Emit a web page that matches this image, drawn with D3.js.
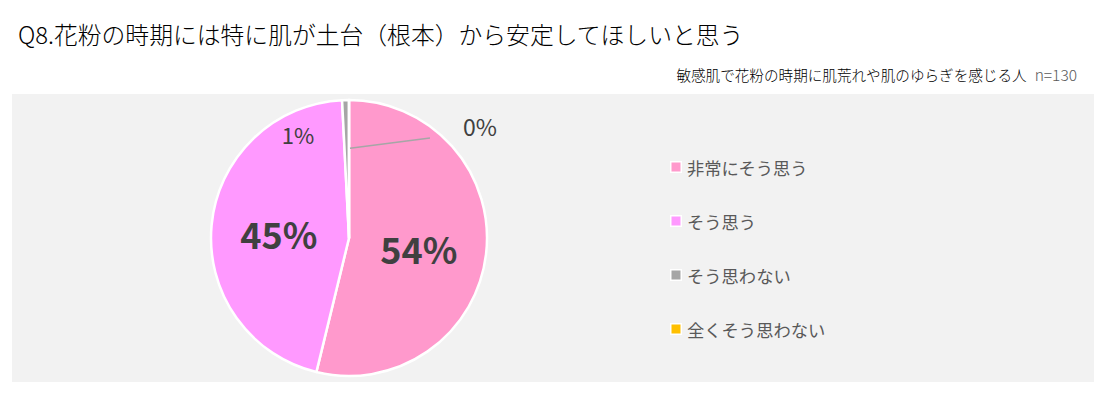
<!DOCTYPE html>
<html>
<head>
<meta charset="utf-8">
<script src="https://cdn.jsdelivr.net/npm/d3@7"></script>
<style>
  body { margin: 0; background: #fff; }
  text { font-family: "Noto Sans CJK JP", "Noto Sans", sans-serif; }
</style>
</head>
<body>
<svg id="chart" width="1111" height="396"></svg>
<script>
// data
var categories = ["非常にそう思う", "そう思う", "そう思わない", "全くそう思わない"];
var values = [53.8, 45.4, 0.8, 0];
var valueLabels = ["54%", "45%", "1%", "0%"];
var colors = ["#FF99CC", "#FF99FF", "#A6A6A6", "#FFC000"];

var svg = d3.select("#chart");

// title + subtitle
svg.append("text")
  .attr("x", 18).attr("y", 44)
  .attr("font-size", "23.8px")
  .attr("font-weight", 300)
  .attr("fill", "#000")
  .text("Q8.花粉の時期には特に肌が土台（根本）から安定してほしいと思う");

var sub = svg.append("text")
  .attr("x", 1077).attr("y", 81)
  .attr("text-anchor", "end")
  .attr("font-size", "14.6px")
  .attr("font-weight", 300)
  .attr("fill", "#000");
sub.append("tspan").text("敏感肌で花粉の時期に肌荒れや肌のゆらぎを感じる人");
sub.append("tspan").attr("dx", 8).attr("fill", "#595959").attr("font-size", "15.5px").text("n=130");

// panel
svg.append("rect")
  .attr("x", 12).attr("y", 94)
  .attr("width", 1082).attr("height", 288)
  .attr("fill", "#F2F2F2");

// pie
var cx = 349, cy = 238, r = 138;
var pie = d3.pie().sort(null).value(function(d) { return d; });
var arcs = pie(values);
var arc = d3.arc().innerRadius(0).outerRadius(r);

var g = svg.append("g").attr("transform", "translate(" + cx + "," + cy + ")");

g.selectAll("path")
  .data(arcs)
  .enter()
  .append("path")
  .attr("d", arc)
  .attr("fill", function(d, i) { return colors[i]; })
  .attr("stroke", "#fff")
  .attr("stroke-width", 2.5)
  .attr("stroke-linejoin", "round");

// big labels
var labelArc = d3.arc().innerRadius(r * 0.51).outerRadius(r * 0.51);

arcs.forEach(function(d, i) {
  if (i < 2) {
    var c = labelArc.centroid(d);
    g.append("text")
      .attr("x", c[0]).attr("y", c[1] + 2)
      .attr("text-anchor", "middle")
      .attr("dominant-baseline", "central")
      .attr("font-size", "36px")
      .attr("font-weight", "bold")
      .attr("fill", "#404040")
      .text(valueLabels[i]);
  }
});

// 1% label
g.append("text")
  .attr("x", -51).attr("y", -104)
  .attr("text-anchor", "middle")
  .attr("dominant-baseline", "central")
  .attr("font-size", "22px")
  .attr("fill", "#404040")
  .text(valueLabels[2]);

// 0% label with leader line
var a0 = arcs[3].startAngle;
var lx = Math.sin(a0) * (r * 0.65), ly = -Math.cos(a0) * (r * 0.65);
g.append("line")
  .attr("x1", lx + 1).attr("y1", ly)
  .attr("x2", 81).attr("y2", -100)
  .attr("stroke", "#A6A6A6")
  .attr("stroke-width", 1.5);
g.append("text")
  .attr("x", 131).attr("y", -112)
  .attr("text-anchor", "middle")
  .attr("dominant-baseline", "central")
  .attr("font-size", "23px")
  .attr("fill", "#404040")
  .text(valueLabels[3]);

// legend
var legend = svg.append("g").selectAll("g")
  .data(categories)
  .enter()
  .append("g")
  .attr("transform", function(d, i) { return "translate(670," + (167 + i * 54) + ")"; });

legend.append("rect")
  .attr("x", 0).attr("y", -6)
  .attr("width", 12).attr("height", 12)
  .attr("fill", "#fff");
legend.append("rect")
  .attr("x", 1.5).attr("y", -4.5)
  .attr("width", 9).attr("height", 9)
  .attr("fill", function(d, i) { return colors[i]; });
legend.append("text")
  .attr("x", 17).attr("y", 0)
  .attr("dominant-baseline", "central")
  .attr("font-size", "17.3px")
  .attr("fill", "#595959")
  .text(function(d) { return d; });
</script>
</body>
</html>
